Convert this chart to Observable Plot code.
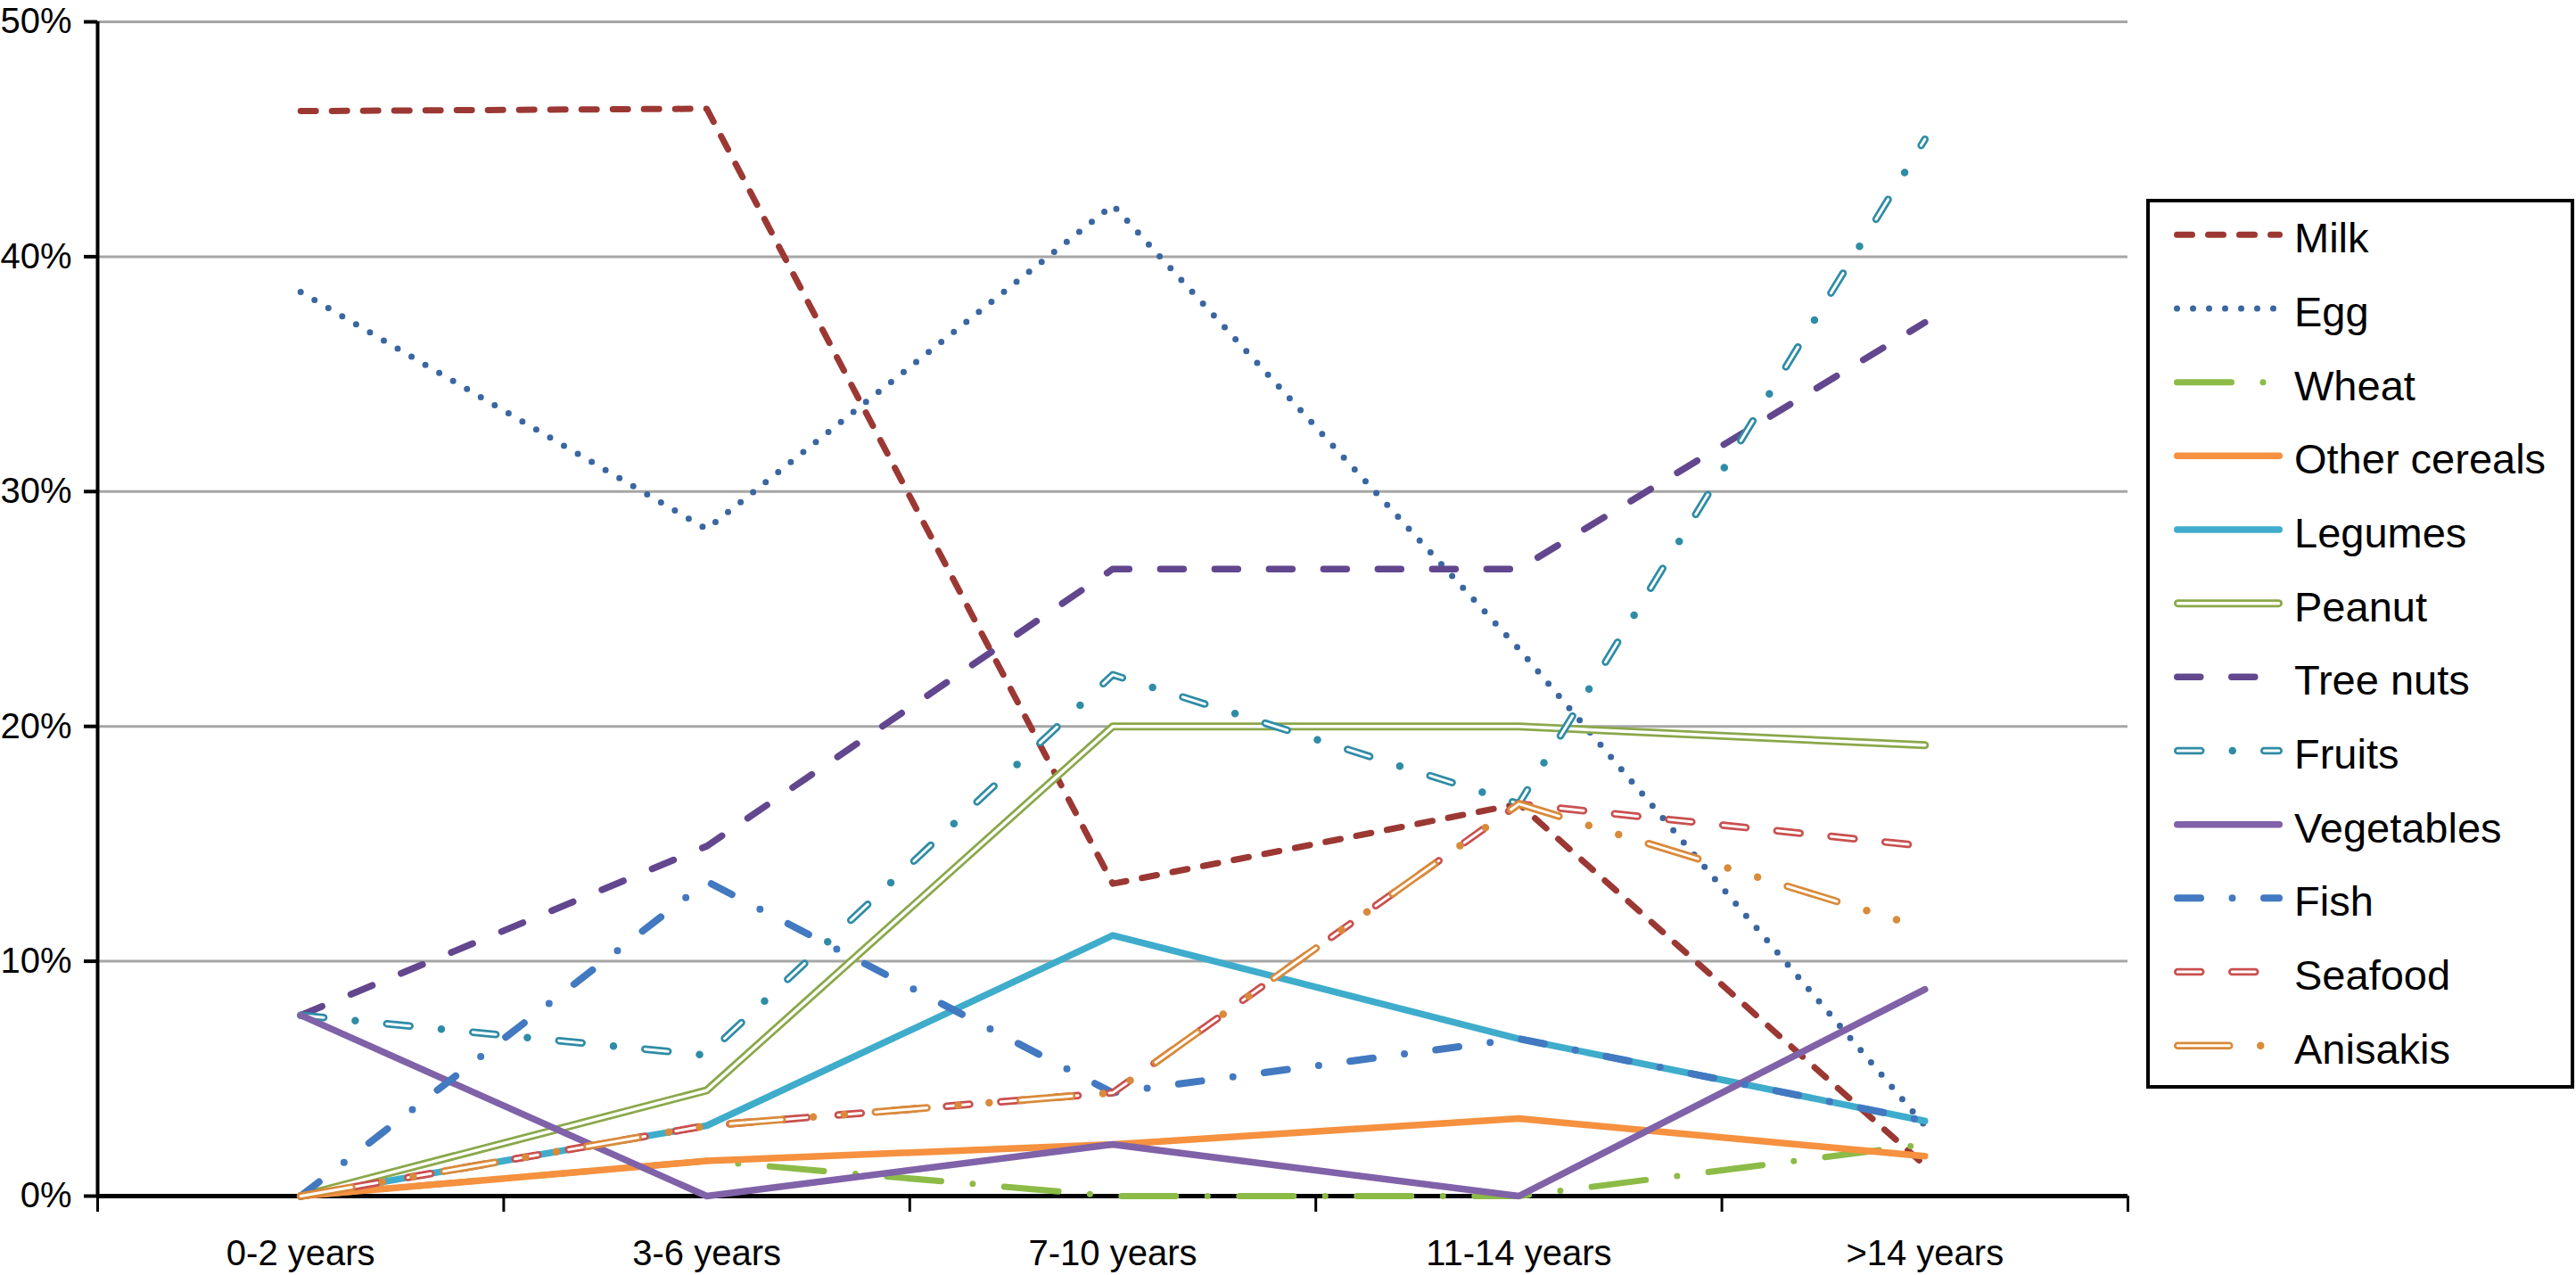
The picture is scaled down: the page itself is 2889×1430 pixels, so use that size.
<!DOCTYPE html>
<html><head><meta charset="utf-8">
<script src="https://cdn.jsdelivr.net/npm/d3@7"></script>
<script src="https://cdn.jsdelivr.net/npm/@observablehq/plot@0.6"></script>
<style>
html,body{margin:0;padding:0;background:#fff;}
#wrap{position:relative;width:2889px;height:1430px;overflow:hidden;font-family:"Liberation Sans",Arial,sans-serif;}
#legend{position:absolute;left:2407px;top:223px;}
</style></head><body><div id="wrap"><div id="chart"></div><div id="legend"></div></div>
<script>
// ---------- data ----------
const categories = ["0-2 years", "3-6 years", "7-10 years", "11-14 years", ">14 years"];
const seriesNames = ["Milk", "Egg", "Wheat", "Other cereals", "Legumes", "Peanut", "Tree nuts", "Fruits", "Vegetables", "Fish", "Seafood", "Anisakis"];
const milk         = [46.2, 46.3, 13.3, 16.7, 1.3];
const egg          = [38.5, 28.4, 42.2, 23.3, 3.0];
const wheat        = [0, 1.5, 0, 0, 2.2];
const otherCereals = [0, 1.5, 2.2, 3.3, 1.7];
const legumes      = [0, 3.0, 11.1, 6.7, 3.2];
const peanut       = [0, 4.5, 20.0, 20.0, 19.2];
const treeNuts     = [7.7, 14.9, 26.7, 26.7, 37.2];
const fruits       = [7.7, 6.0, 22.2, 16.7, 45.0];
const vegetables   = [7.7, 0, 2.2, 0, 8.8];
const fish         = [0, 13.4, 4.4, 6.7, 3.2];
const seafood      = [0, 3.0, 4.4, 16.7, 14.9];
const anisakis     = [0, 3.0, 4.4, 16.7, 11.4];
const seriesValues = [milk, egg, wheat, otherCereals, legumes, peanut, treeNuts, fruits, vegetables, fish, seafood, anisakis];
const yTicks = [0, 10, 20, 30, 40, 50];

// ---------- styles ----------
const styles = [
  {color: "#9C3833", width: 7,   dash: "17 18"},
  {color: "#3A66A1", width: 7,   dash: "0 18"},
  {color: "#8CBB47", width: 7,   dash: "61 35.5 0 35.5"},
  {color: "#F5913F", width: 7.5, dash: null},
  {color: "#3FACCB", width: 7.5, dash: null},
  {color: "#8AA84A", width: 9,   dash: null, inner: 3.5, innerDash: null},
  {color: "#62478E", width: 7.5, dash: "26 35"},
  {color: "#2F8CA6", width: 8.5, dash: "26 35.5 0 35.5", inner: 3, innerDash: "26 71"},
  {color: "#8062A8", width: 7.5, dash: null},
  {color: "#4279C0", width: 8,   dash: "26 35.5 0 35.5"},
  {color: "#C9504F", width: 8.5, dash: "26 35", inner: 3, innerDash: "26 35"},
  {color: "#D98A3A", width: 8.5, dash: "58 35 0 35 0 35", inner: 3, innerDash: "58 105"}
];

const W = 2889, H = 1430;
const font = '"Liberation Sans", Arial, sans-serif';

const lineMarks = [];
seriesNames.forEach((name, k) => {
  const s = styles[k];
  const data = seriesValues[k].map((v, i) => ({x: i + 0.5, y: v, name}));
  lineMarks.push(Plot.line(data, {
    x: "x", y: "y", stroke: s.color, strokeWidth: s.width,
    strokeDasharray: s.dash || undefined, strokeLinecap: "round", strokeLinejoin: "round"
  }));
  if (s.inner) {
    lineMarks.push(Plot.line(data, {
      x: "x", y: "y", stroke: "#fff", strokeWidth: s.inner,
      strokeDasharray: s.innerDash || undefined, strokeLinecap: "round", strokeLinejoin: "round"
    }));
  }
});

const chart = Plot.plot({
  width: W, height: H,
  marginLeft: 109, marginRight: W - 2386, marginTop: 24, marginBottom: H - 1341,
  style: {fontFamily: font, color: "#000", background: "#fff", overflow: "visible"},
  x: {domain: [0, categories.length], axis: null, label: null},
  y: {domain: [0, 50], axis: null, label: null},
  marks: [
    Plot.ruleY(yTicks.filter(d => d > 0), {stroke: "#a6a6a6", strokeWidth: 3}),
    Plot.axisY({ticks: yTicks, tickSize: 15, tickPadding: 14, strokeWidth: 4, label: null,
      fontSize: 40, tickFormat: d => d + "%", fill: "#000"}),
    Plot.axisX({ticks: d3.range(categories.length + 1), tickSize: 18, strokeWidth: 3, label: null,
      tickFormat: () => ""}),
    Plot.axisX({ticks: categories.map((c, i) => i + 0.5), tickSize: 0, tickPadding: 49, label: null,
      fontSize: 40, fill: "#000", tickFormat: d => categories[Math.floor(d)]}),
    Plot.ruleX([0], {y1: 0, y2: 50, stroke: "#000", strokeWidth: 4}),
    Plot.ruleY([0], {stroke: "#000", strokeWidth: 5}),
    ...lineMarks
  ]
});
document.getElementById("chart").appendChild(chart);

// ---------- legend ----------
const LW = 480, LH = 998;
const ly = d3.scalePoint().domain(seriesNames).range([40.3, 949.7]);
const svg = d3.select("#legend").append("svg")
  .attr("width", LW).attr("height", LH)
  .style("font-family", font);
svg.append("rect").attr("x", 2).attr("y", 2).attr("width", LW - 4).attr("height", LH - 4)
  .attr("fill", "#fff").attr("stroke", "#000").attr("stroke-width", 4);
seriesNames.forEach((name, k) => {
  const s = styles[k];
  const y = ly(name);
  const x1 = 31 + s.width / 2, x2 = 153 - s.width / 2;
  const l = svg.append("line").attr("x1", x1).attr("x2", x2).attr("y1", y).attr("y2", y)
    .attr("stroke", s.color).attr("stroke-width", s.width).attr("stroke-linecap", "round");
  if (s.dash) l.attr("stroke-dasharray", s.dash);
  if (s.inner) {
    const li = svg.append("line").attr("x1", x1).attr("x2", x2).attr("y1", y).attr("y2", y)
      .attr("stroke", "#fff").attr("stroke-width", s.inner).attr("stroke-linecap", "round");
    if (s.innerDash) li.attr("stroke-dasharray", s.innerDash);
  }
  svg.append("text").attr("x", 166).attr("y", y + 3).attr("dy", "0.36em")
    .attr("font-size", 47).attr("fill", "#000").text(name);
});
</script>
</body></html>
